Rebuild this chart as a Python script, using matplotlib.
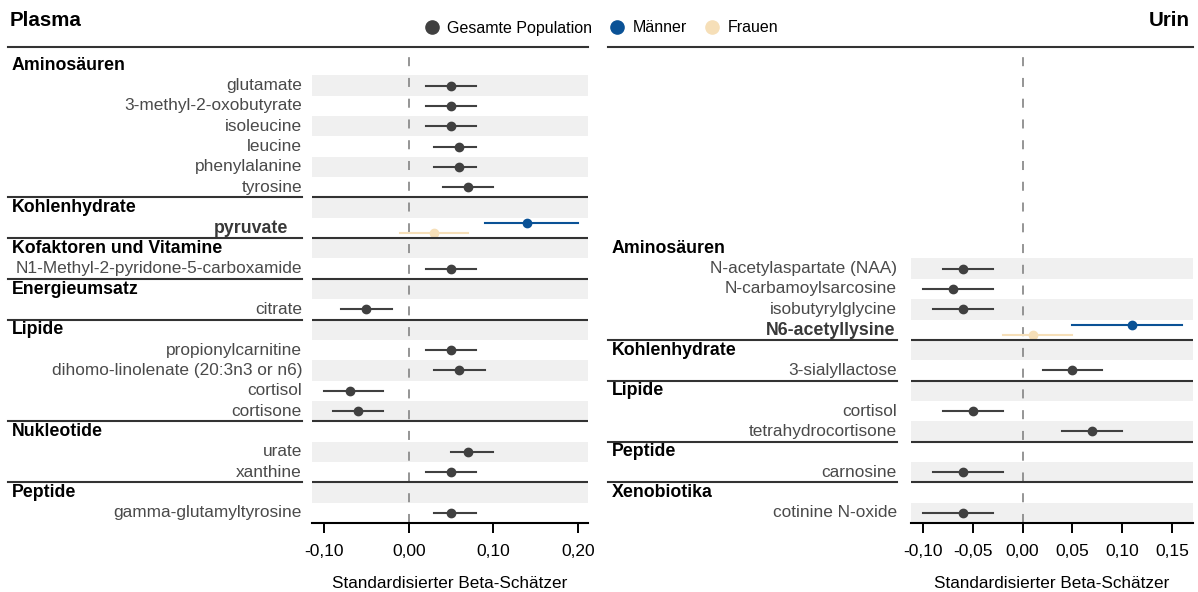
import matplotlib
matplotlib.use('Agg')
import matplotlib.pyplot as plt
from matplotlib.lines import Line2D
from matplotlib.ticker import FuncFormatter
from matplotlib.transforms import blended_transform_factory

plt.rcParams['font.family'] = ['Liberation Sans', 'DejaVu Sans']

# --- Daten Plasma ---
PLASMA_GRUPPEN = ['Aminosäuren', 'Kohlenhydrate', 'Kofaktoren und Vitamine',
                  'Energieumsatz', 'Lipide', 'Nukleotide', 'Peptide']
PLASMA_ANZAHL = [6, 1, 1, 1, 4, 2, 1]
PLASMA_METABOLITE = ['glutamate', '3-methyl-2-oxobutyrate', 'isoleucine', 'leucine',
                     'phenylalanine', 'tyrosine', 'pyruvate',
                     'N1-Methyl-2-pyridone-5-carboxamide', 'citrate',
                     'propionylcarnitine', 'dihomo-linolenate (20:3n3 or n6)',
                     'cortisol', 'cortisone', 'urate', 'xanthine',
                     'gamma-glutamyltyrosine']
PLASMA_BETA = [0.05, 0.05, 0.05, 0.06, 0.06, 0.07, None, 0.05, -0.05,
               0.05, 0.06, -0.07, -0.06, 0.07, 0.05, 0.05]
PLASMA_UNTEN = [0.02, 0.02, 0.02, 0.03, 0.03, 0.04, None, 0.02, -0.08,
                0.02, 0.03, -0.10, -0.09, 0.05, 0.02, 0.03]
PLASMA_OBEN = [0.08, 0.08, 0.08, 0.08, 0.08, 0.10, None, 0.08, -0.02,
               0.08, 0.09, -0.03, -0.03, 0.10, 0.08, 0.08]
# geschlechtsspezifisch (nur pyruvate): (beta, unten, oben)
PLASMA_M = {'pyruvate': (0.14, 0.09, 0.20)}
PLASMA_F = {'pyruvate': (0.03, -0.01, 0.07)}

# --- Daten Urin ---
URIN_GRUPPEN = ['Aminosäuren', 'Kohlenhydrate', 'Lipide', 'Peptide', 'Xenobiotika']
URIN_ANZAHL = [4, 1, 2, 1, 1]
URIN_METABOLITE = ['N-acetylaspartate (NAA)', 'N-carbamoylsarcosine',
                   'isobutyrylglycine', 'N6-acetyllysine', '3-sialyllactose',
                   'cortisol', 'tetrahydrocortisone', 'carnosine', 'cotinine N-oxide']
URIN_BETA = [-0.06, -0.07, -0.06, None, 0.05, -0.05, 0.07, -0.06, -0.06]
URIN_UNTEN = [-0.08, -0.10, -0.09, None, 0.02, -0.08, 0.04, -0.09, -0.10]
URIN_OBEN = [-0.03, -0.03, -0.03, None, 0.08, -0.02, 0.10, -0.02, -0.03]
URIN_M = {'N6-acetyllysine': (0.11, 0.05, 0.16)}
URIN_F = {'N6-acetyllysine': (0.01, -0.02, 0.05)}

FARBE_GESAMT = '#404040'
FARBE_M = '#0a5296'
FARBE_F = '#f6dfb8'
FARBE_LABEL = '#4a4a4a'
GRAU_BAND = '#f0f0f0'
N_ZEILEN = 23

W, H = 1198, 592


def fx(px):
    return px / W


def fy(py):
    return 1 - py / H


def komma(x, pos):
    return f'{x:.2f}'.replace('.', ',')


def zeichne_panel(fig, ax, gruppen, anzahl, namen, beta, unten, oben, maenner, frauen,
                  start, label_rechts, kopf_x, linie_x0, linie_x1, fett_rechts):
    trans = blended_transform_factory(fig.transFigure, ax.transData)
    zeile = start
    i = 0
    for g, (gruppe, n) in enumerate(zip(gruppen, anzahl)):
        if g > 0:
            # Trennlinie ueber der Gruppe
            ax.axhline(zeile - 0.5, color='#333333', lw=1.5, zorder=3)
            fig.add_artist(Line2D([fx(linie_x0), fx(linie_x1)], [zeile - 0.5, zeile - 0.5],
                                  transform=trans, color='#333333', lw=1.5))
        if (zeile - start) % 2 == 1:
            ax.axhspan(zeile - 0.5, zeile + 0.5, color=GRAU_BAND, lw=0, zorder=0)
        ax.text(fx(kopf_x), zeile, gruppe, transform=trans, ha='left', va='center',
                fontsize=12.8, fontweight='bold', color='black')
        zeile += 1
        for _ in range(n):
            name = namen[i]
            if (zeile - start) % 2 == 1:
                ax.axhspan(zeile - 0.5, zeile + 0.5, color=GRAU_BAND, lw=0, zorder=0)
            if name in maenner:
                ax.text(fx(fett_rechts), zeile + 0.05, name, transform=trans, ha='right',
                        va='center', fontsize=12.8, fontweight='bold', color='#383838')
                b, lo, hi = frauen[name]
                ax.plot([lo, hi], [zeile + 0.25] * 2, color=FARBE_F, lw=1.5, zorder=2)
                ax.plot(b, zeile + 0.25, 'o', color=FARBE_F, ms=6, zorder=3)
                b, lo, hi = maenner[name]
                ax.plot([lo, hi], [zeile - 0.25] * 2, color=FARBE_M, lw=1.5, zorder=2)
                ax.plot(b, zeile - 0.25, 'o', color=FARBE_M, ms=6, zorder=3)
            else:
                ax.text(fx(label_rechts), zeile, name, transform=trans, ha='right',
                        va='center', fontsize=12.4, color=FARBE_LABEL)
                ax.plot([unten[i], oben[i]], [zeile] * 2, color=FARBE_GESAMT, lw=1.5, zorder=2)
                ax.plot(beta[i], zeile, 'o', color=FARBE_GESAMT, ms=6, zorder=3)
            zeile += 1
            i += 1

    ax.axvline(0, color='#8c8c8c', lw=1.3, ls=(0, (5, 6.5)), zorder=1)
    ax.set_ylim(N_ZEILEN - 0.5, -0.5)
    ax.set_yticks([])
    for s in ['left', 'right', 'top']:
        ax.spines[s].set_visible(False)
    ax.spines['bottom'].set_linewidth(1.5)
    ax.tick_params(axis='x', length=7.2, width=1.4, labelsize=12.5, pad=8, colors='black')
    ax.xaxis.set_major_formatter(FuncFormatter(komma))
    ax.set_xlabel('Standardisierter Beta-Schätzer', fontsize=12.3, labelpad=12)


fig = plt.figure(figsize=(W / 100, H / 100), dpi=100)
unten_ax = fy(523)
hoehe_ax = fy(55) - unten_ax

ax1 = fig.add_axes([fx(312), unten_ax, fx(588) - fx(312), hoehe_ax])
ax1.set_xlim(-0.1144, 0.212)
ax1.set_xticks([-0.10, 0.00, 0.10, 0.20])
zeichne_panel(fig, ax1, PLASMA_GRUPPEN, PLASMA_ANZAHL, PLASMA_METABOLITE,
              PLASMA_BETA, PLASMA_UNTEN, PLASMA_OBEN, PLASMA_M, PLASMA_F,
              0, 302, 12, 8, 302, 288)

ax2 = fig.add_axes([fx(911), unten_ax, fx(1193) - fx(911), hoehe_ax])
ax2.set_xlim(-0.112, 0.171)
ax2.set_xticks([-0.10, -0.05, 0.00, 0.05, 0.10, 0.15])
zeichne_panel(fig, ax2, URIN_GRUPPEN, URIN_ANZAHL, URIN_METABOLITE,
              URIN_BETA, URIN_UNTEN, URIN_OBEN, URIN_M, URIN_F,
              N_ZEILEN - sum(URIN_ANZAHL) - len(URIN_GRUPPEN), 897, 612, 608, 897, 895)

# Titel und obere Linien
fig.text(fx(10), fy(21), 'Plasma', fontsize=14.8, fontweight='bold', ha='left', va='center')
fig.text(fx(1190), fy(21), 'Urin', fontsize=14.8, fontweight='bold', ha='right', va='center')
fig.add_artist(Line2D([fx(8), fx(588)], [fy(46.5), fy(46.5)], color='#333333', lw=1.5))
fig.add_artist(Line2D([fx(608), fx(1193)], [fy(46.5), fy(46.5)], color='#333333', lw=1.5))

# Legende
griffe = [Line2D([], [], ls='none', marker='o', ms=9.5, color=FARBE_GESAMT),
          Line2D([], [], ls='none', marker='o', ms=9.5, color=FARBE_M),
          Line2D([], [], ls='none', marker='o', ms=9.5, color=FARBE_F)]
fig.legend(griffe, ['Gesamte Population', 'Männer', 'Frauen'], loc='center',
           bbox_to_anchor=(fx(600), fy(28)), ncol=3, frameon=False, fontsize=11.5,
           handletextpad=0.35, columnspacing=1.0, handlelength=1.2)

fig.savefig('out.png', dpi=100)
